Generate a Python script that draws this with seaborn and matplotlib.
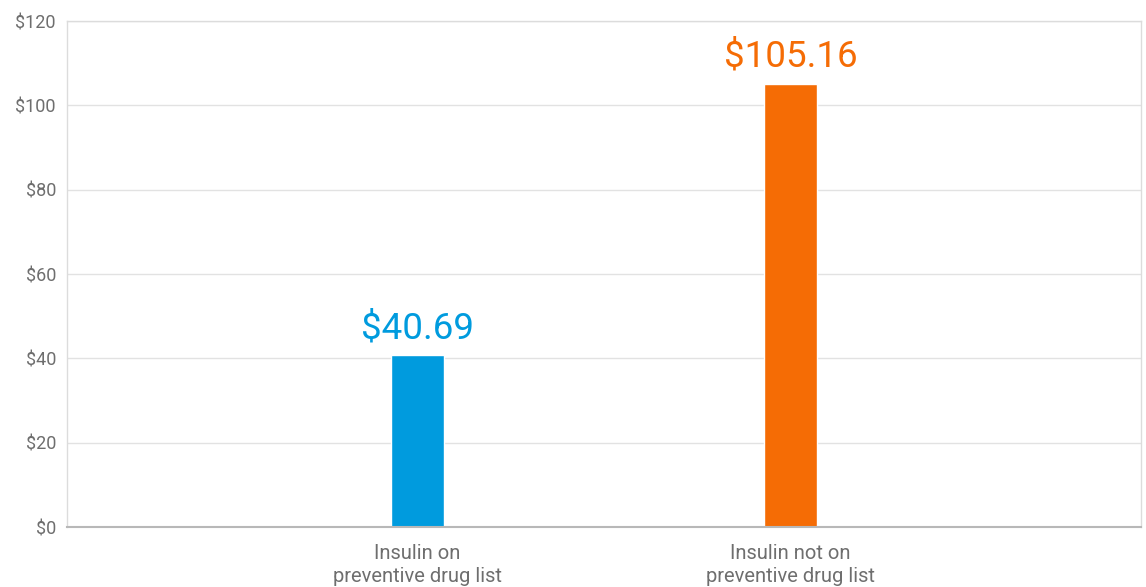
import matplotlib
matplotlib.use("Agg")
import matplotlib.pyplot as plt
import seaborn as sns
import pandas as pd

# data
categories = ["Insulin on\npreventive drug list", "Insulin not on\npreventive drug list"]
costs = [40.69, 105.16]
bar_colors = ["#009BDE", "#F56C05"]
y_ticks = [0, 20, 40, 60, 80, 100, 120]

df = pd.DataFrame({"category": categories, "cost": costs})

sns.set_theme(style="white")
plt.rcParams["font.family"] = ["Roboto", "DejaVu Sans"]

fig = plt.figure(figsize=(11.46, 5.87), dpi=100)
ax = fig.add_axes([0.0585, 0.1022, 0.9371, 0.862])

sns.barplot(
    data=df,
    x="category",
    y="cost",
    hue="category",
    palette=bar_colors,
    saturation=1,
    width=0.14,
    legend=False,
    ax=ax,
)

ax.set_xlim(-0.94, 1.94)
ax.set_ylim(0, 120)
ax.set_yticks(y_ticks)
ax.set_yticklabels([f"${v}" for v in y_ticks])
ax.yaxis.grid(True, color="#e2e2e2", linewidth=1)
ax.set_axisbelow(True)
ax.set_xlabel("")
ax.set_ylabel("")

for side in ["left", "right", "top"]:
    ax.spines[side].set_color("#dcdcdc")
    ax.spines[side].set_linewidth(1)
ax.spines["bottom"].set_color("#b8b8b8")
ax.spines["bottom"].set_linewidth(1.5)

ax.tick_params(axis="both", length=0, colors="#6e6e6e")
ax.tick_params(axis="y", labelsize=13, pad=8)
ax.tick_params(axis="x", labelsize=14.5, pad=12)
for lbl in ax.get_xticklabels():
    lbl.set_linespacing(1.3)

# value labels
for i, (v, c) in enumerate(zip(costs, bar_colors)):
    ax.text(i, v + 2.2, f"${v:.2f}", ha="center", va="bottom",
            fontsize=26.5, color=c)

fig.savefig("out.png", dpi=100)
